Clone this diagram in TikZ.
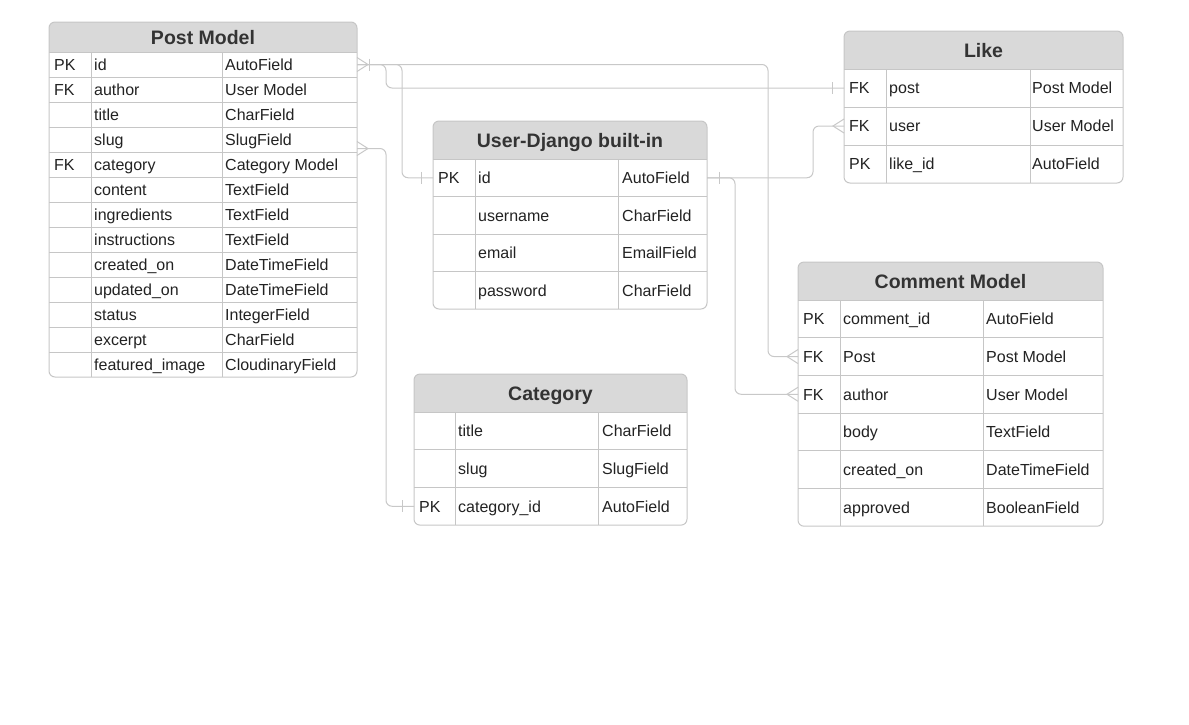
\documentclass[tikz,border=0pt]{standalone}
\usepackage{fontspec}
\setmainfont{Liberation Sans}
\usepackage{tikz}
\usetikzlibrary{calc,positioning}
\definecolor{HeadFill}{HTML}{D9D9D9}
\definecolor{GridLine}{HTML}{C6C6C6}
\definecolor{LinkLine}{HTML}{C8C8C8}
\definecolor{CellText}{HTML}{222222}
\definecolor{HeadText}{HTML}{333333}
\newcommand{\erRowFont}{\fontsize{16}{19}\selectfont}
\newcommand{\erHeadFont}{\fontsize{19.5}{23}\selectfont\bfseries}
\tikzset{
  link/.style={draw=LinkLine, line width=1pt, rounded corners=6pt},
  gridline/.style={draw=GridLine, line width=1pt},
  rowbox/.style 2 args={minimum width=#1, minimum height=#2, inner sep=0pt, outer sep=0pt, anchor=north west},
  celltext/.style={anchor=west, inner sep=0pt, text height=11.5pt, text depth=0pt},
  headtext/.style={font=\erHeadFont, text=HeadText, inner sep=0pt, text height=14pt, text depth=0pt},
  crowfoot/.pic={\draw[link, rounded corners=0pt] (0,-7) -- (-11,0) -- (0,7);},
  onebar/.pic={\draw[link, rounded corners=0pt] (-12,-6) -- (-12,6);},
}

\begin{document}
\begin{tikzpicture}[x=1pt, y=-1pt, every node/.style={font=\erRowFont, text=CellText}]
  \useasboundingbox (0,0) rectangle (1189,724);

  % Post Model
  \begin{scope}
    \clip[rounded corners=6] (49,22) rectangle (357,377);
    \fill[HeadFill] (49,22) rectangle (357,52);
  \end{scope}
  \node[headtext] (post-head) at (203,37.5) {Post Model};
  \foreach \i/\k/\n/\t in {1/PK/id/AutoField, 2/FK/author/User Model,
      3//title/CharField, 4//slug/SlugField, 5/FK/category/Category Model,
      6//content/TextField, 7//ingredients/TextField, 8//instructions/TextField,
      9//created\_on/DateTimeField, 10//updated\_on/DateTimeField,
      11//status/IntegerField, 12//excerpt/CharField,
      13//featured\_image/CloudinaryField}{
    \node[rowbox={308}{25}] (post-\i) at (49,{52+25*(\i-1)}) {};
    \draw[gridline] (post-\i.north west) -- (post-\i.north east);
    \node[celltext, right=5pt of post-\i.west] (post-\i-key) {\k};
    \node[celltext, right=45pt of post-\i.west] (post-\i-name) {\n};
    \node[celltext, right=176pt of post-\i.west] (post-\i-type) {\t};
  }
  \draw[gridline] (91,52) -- (91,377) (222,52) -- (222,377);
  \draw[gridline, rounded corners=6] (49,22) rectangle (357,377);

  % Like
  \begin{scope}
    \clip[rounded corners=6] (844,31) rectangle (1123,183);
    \fill[HeadFill] (844,31) rectangle (1123,69);
  \end{scope}
  \node[headtext] (like-head) at (983.5,50.5) {Like};
  \foreach \i/\k/\n/\t in {1/FK/post/Post Model, 2/FK/user/User Model,
      3/PK/like\_id/AutoField}{
    \node[rowbox={279}{38}] (like-\i) at (844,{69+38*(\i-1)}) {};
    \draw[gridline] (like-\i.north west) -- (like-\i.north east);
    \node[celltext, right=5pt of like-\i.west] (like-\i-key) {\k};
    \node[celltext, right=45pt of like-\i.west] (like-\i-name) {\n};
    \node[celltext, right=188pt of like-\i.west] (like-\i-type) {\t};
  }
  \draw[gridline] (886,69) -- (886,183) (1030,69) -- (1030,183);
  \draw[gridline, rounded corners=6] (844,31) rectangle (1123,183);

  % User-Django built-in
  \begin{scope}
    \clip[rounded corners=6] (433,121) rectangle (707,309);
    \fill[HeadFill] (433,121) rectangle (707,159);
  \end{scope}
  \node[headtext] (user-head) at (570,140.5) {User-Django built-in};
  \foreach \i/\k/\n/\t in {1/PK/id/AutoField, 2//username/CharField,
      3//email/EmailField, 4//password/CharField}{
    \node[rowbox={274}{37.5}] (user-\i) at (433,{159+37.5*(\i-1)}) {};
    \draw[gridline] (user-\i.north west) -- (user-\i.north east);
    \node[celltext, right=5pt of user-\i.west] (user-\i-key) {\k};
    \node[celltext, right=45pt of user-\i.west] (user-\i-name) {\n};
    \node[celltext, right=189pt of user-\i.west] (user-\i-type) {\t};
  }
  \draw[gridline] (475,159) -- (475,309) (618,159) -- (618,309);
  \draw[gridline, rounded corners=6] (433,121) rectangle (707,309);

  % Comment Model
  \begin{scope}
    \clip[rounded corners=6] (798,262) rectangle (1103,526.2);
    \fill[HeadFill] (798,262) rectangle (1103,300);
  \end{scope}
  \node[headtext] (comment-head) at (950.5,281.5) {Comment Model};
  \foreach \i/\k/\n/\t in {1/PK/comment\_id/AutoField, 2/FK/Post/Post Model,
      3/FK/author/User Model, 4//body/TextField,
      5//created\_on/DateTimeField, 6//approved/BooleanField}{
    \node[rowbox={305}{37.7}] (comment-\i) at (798,{300+37.7*(\i-1)}) {};
    \draw[gridline] (comment-\i.north west) -- (comment-\i.north east);
    \node[celltext, right=5pt of comment-\i.west] (comment-\i-key) {\k};
    \node[celltext, right=45pt of comment-\i.west] (comment-\i-name) {\n};
    \node[celltext, right=188pt of comment-\i.west] (comment-\i-type) {\t};
  }
  \draw[gridline] (840,300) -- (840,526.2) (983,300) -- (983,526.2);
  \draw[gridline, rounded corners=6] (798,262) rectangle (1103,526.2);

  % Category
  \begin{scope}
    \clip[rounded corners=6] (414,374) rectangle (687,525.1);
    \fill[HeadFill] (414,374) rectangle (687,412);
  \end{scope}
  \node[headtext] (category-head) at (550.5,393.5) {Category};
  \foreach \i/\k/\n/\t in {1//title/CharField, 2//slug/SlugField,
      3/PK/category\_id/AutoField}{
    \node[rowbox={273}{37.7}] (category-\i) at (414,{412+37.7*(\i-1)}) {};
    \draw[gridline] (category-\i.north west) -- (category-\i.north east);
    \node[celltext, right=5pt of category-\i.west] (category-\i-key) {\k};
    \node[celltext, right=44pt of category-\i.west] (category-\i-name) {\n};
    \node[celltext, right=188pt of category-\i.west] (category-\i-type) {\t};
  }
  \draw[gridline] (455,412) -- (455,525.1) (598,412) -- (598,525.1);
  \draw[gridline, rounded corners=6] (414,374) rectangle (687,525.1);

  % Relations
  \coordinate (post-cat) at ($(post-4.east)+(0,9)$);
  \draw[link] (post-1.east) -| ($(comment-2.west)+(-30,0)$) -- (comment-2.west);
  \draw[link] (post-1.east) -- ++(29,0) |- (like-1.west);
  \draw[link] (post-1.east) -- ++(45,0) |- (user-1.west);
  \draw[link] (post-cat) -- ++(29,0) |- (category-3.west);
  \draw[link] (user-1.east) -- ++(106,0) |- (like-2.west);
  \draw[link] (user-1.east) -- ++(28,0) |- (comment-3.west);
  % Ends
  \pic[xscale=-1] at (post-1.east) {crowfoot};
  \pic[xscale=-1] at (post-1.east) {onebar};
  \pic[xscale=-1] at (post-cat) {crowfoot};
  \pic at (like-1.west) {onebar};
  \pic at (like-2.west) {crowfoot};
  \pic at (user-1.west) {onebar};
  \pic[xscale=-1] at (user-1.east) {onebar};
  \pic at (comment-2.west) {crowfoot};
  \pic at (comment-3.west) {crowfoot};
  \pic at (category-3.west) {onebar};
\end{tikzpicture}
\end{document}
